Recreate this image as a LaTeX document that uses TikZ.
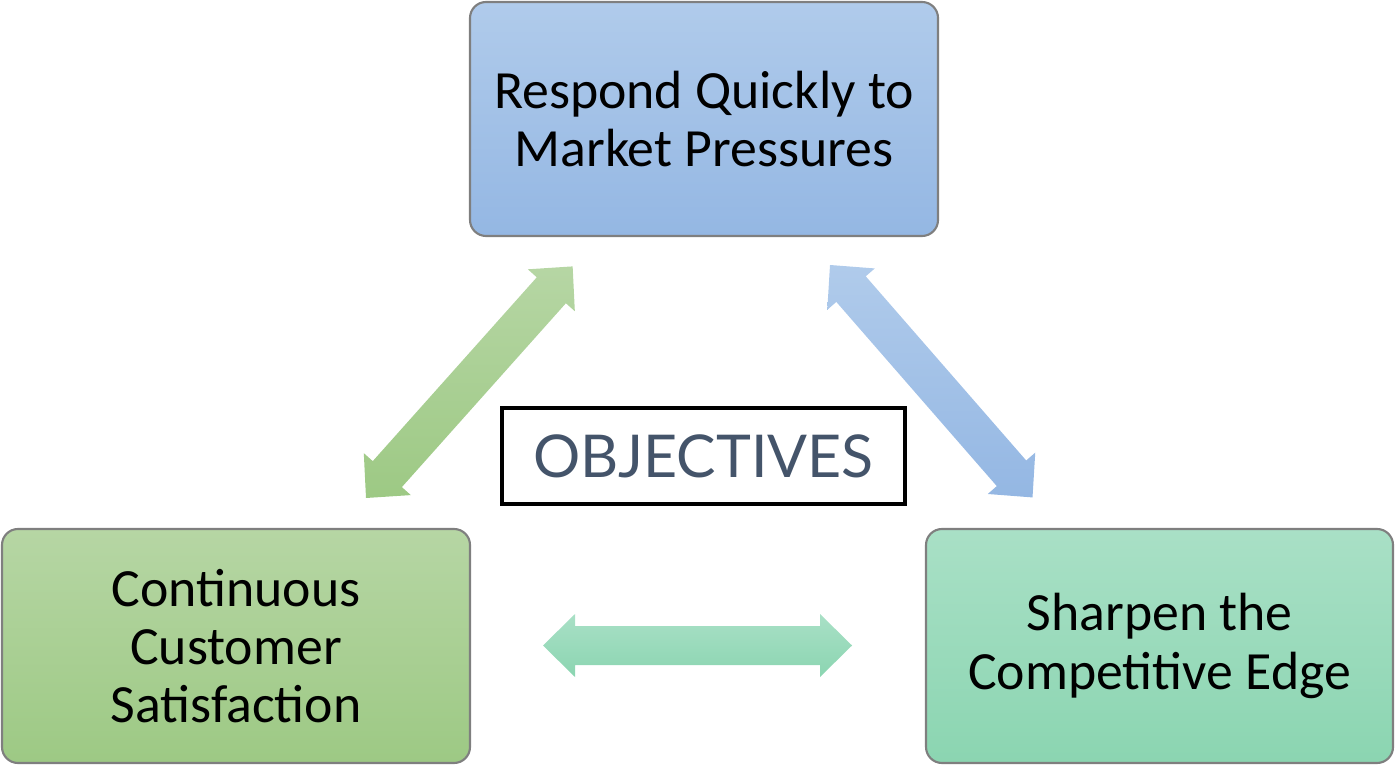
\documentclass[tikz,border=0pt]{standalone}
\usepackage{fontspec}
\setmainfont{Carlito}
\newfontfamily\objfont{Lato}
\usetikzlibrary{calc}

\definecolor{blueA}{HTML}{B0CBEB}
\definecolor{blueB}{HTML}{94B7E3}
\definecolor{greenA}{HTML}{B6D6A4}
\definecolor{greenB}{HTML}{9DC984}
\definecolor{tealA}{HTML}{A9E0C6}
\definecolor{tealB}{HTML}{8BD5B1}
\definecolor{boxline}{HTML}{7F7F7F}
\definecolor{slate}{HTML}{44546A}

\tikzset{
  objbox/.style={draw=boxline, line width=0.6pt, rounded corners=0.16cm,
    minimum width=4.68cm, minimum height=2.34cm, align=center,
    font=\fontsize{15.3}{16.6}\selectfont},
  bluebox/.style={objbox, top color=blueA, bottom color=blueB},
  greenbox/.style={objbox, top color=greenA, bottom color=greenB},
  tealbox/.style={objbox, top color=tealA, bottom color=tealB},
  titlebox/.style={draw=black, line width=1pt, minimum width=4.03cm,
    minimum height=0.96cm, text=slate, font=\objfont\fontsize{16.8}{20}\selectfont}
}

% double headed block arrow from #1 to #2
\newcommand{\dblarrow}[3]{%
  \path[#3] let \p1=($(#2)-(#1)$), \n1={veclen(\x1,\y1)}, \n2={atan2(\y1,\x1)} in
    ([shift={(#1)},rotate=\n2]0,0)
    -- ([shift={(#1)},rotate=\n2]0.32cm,0.315cm)
    -- ([shift={(#1)},rotate=\n2]0.32cm,0.195cm)
    -- ([shift={(#1)},rotate=\n2]{\n1-0.32cm},0.195cm)
    -- ([shift={(#1)},rotate=\n2]{\n1-0.32cm},0.315cm)
    -- ([shift={(#1)},rotate=\n2]\n1,0)
    -- ([shift={(#1)},rotate=\n2]{\n1-0.32cm},-0.315cm)
    -- ([shift={(#1)},rotate=\n2]{\n1-0.32cm},-0.195cm)
    -- ([shift={(#1)},rotate=\n2]0.32cm,-0.195cm)
    -- ([shift={(#1)},rotate=\n2]0.32cm,-0.315cm)
    -- cycle;}

\begin{document}
\begin{tikzpicture}
    \useasboundingbox (0,0) rectangle (13.95,7.65);
    % boxes
    \node[bluebox] (market) at (7.04,6.46) {Respond Quickly to\\Market Pressures};
    \node[greenbox] (customer) at (2.36,1.19) {Continuous\\Customer\\Satisfaction};
    \node[tealbox, minimum width=4.67cm] (edge) at (11.595,1.19) {Sharpen the\\Competitive Edge};
    \node[titlebox] (obj) at (7.035,3.09) {OBJECTIVES};
    % arrow ends
    \coordinate (custtip) at (3.66,2.67);
    \coordinate (markl) at (5.73,4.99);
    \coordinate (markr) at (8.30,5.00);
    \coordinate (edgetip) at (10.33,2.67);
    \coordinate (botl) at (5.43,1.195);
    \coordinate (botr) at (8.52,1.195);
    \dblarrow{custtip}{markl}{top color=greenA, bottom color=greenB}
    \dblarrow{markr}{edgetip}{top color=blueA, bottom color=blueB}
    \dblarrow{botl}{botr}{top color=tealA, bottom color=tealB}
\end{tikzpicture}
\end{document}
